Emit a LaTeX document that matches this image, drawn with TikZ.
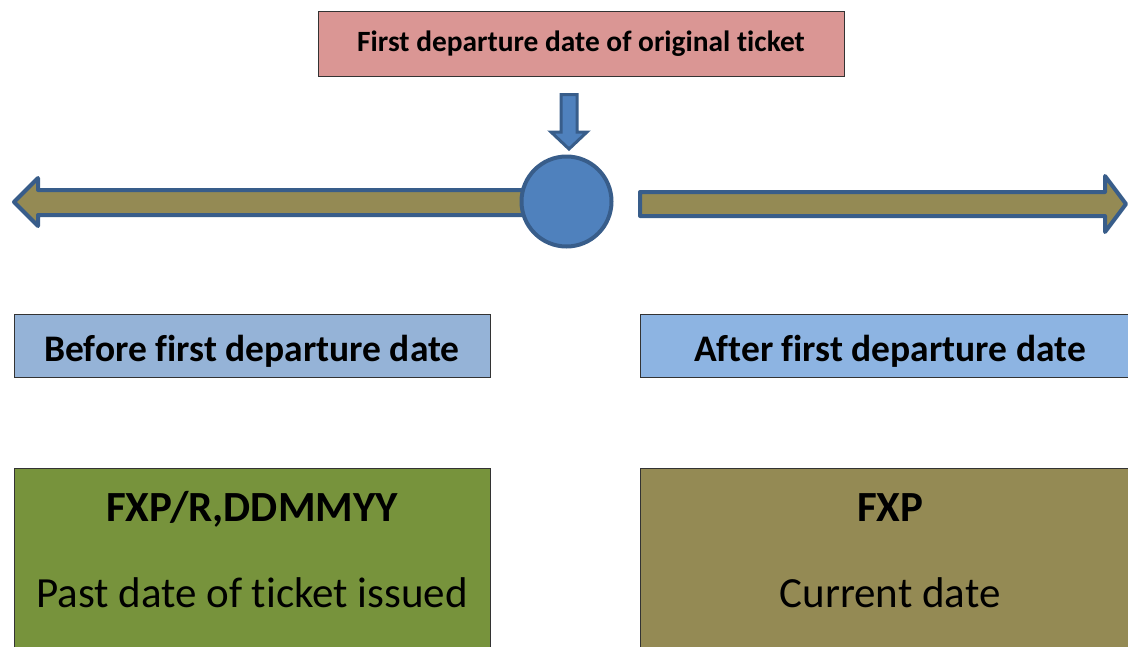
\documentclass[tikz,border=0pt]{standalone}
\usepackage{fontspec}
\setmainfont{Carlito}[Ligatures=NoCommon]
\definecolor{pinkbox}{HTML}{DA9694}
\definecolor{bluebox}{HTML}{95B3D7}
\definecolor{bluebox2}{HTML}{8DB4E2}
\definecolor{greenbox}{HTML}{77933C}
\definecolor{olivebox}{HTML}{948A54}
\definecolor{blueline}{HTML}{385D8A}
\definecolor{bluefill}{HTML}{4F81BD}
\tikzset{
  box/.style={draw=black!80, line width=0.8pt, inner sep=0pt, anchor=north west},
  lbl/.style={inner sep=0pt, anchor=base},
  blockarrow/.style={fill=olivebox, draw=blueline, line width=4pt, line join=round},
  smallarrow/.style={fill=bluefill, draw=blueline, line width=3pt, line join=miter},
}
\begin{document}
\begin{tikzpicture}[x=1pt,y=-1pt]
\useasboundingbox (0,0) rectangle (1128,646);
% top box
\node[box, fill=pinkbox, minimum width=526pt, minimum height=65pt] (top) at (318,11) {};
\node[lbl, font=\bfseries\fontsize{29.4}{34}\selectfont] (toplbl) at (581,51) {First departure date of original ticket};
% arrows behind circle
\draw[blockarrow] (14,202) -- (38,178) -- (38,190) -- (540,190) -- (540,215) -- (38,215) -- (38,226) -- cycle;
\draw[blockarrow] (640,192) -- (1105,192) -- (1105,176) -- (1126,204) -- (1105,232) -- (1105,216) -- (640,216) -- cycle;
% circle
\node[circle, fill=bluefill, draw=blueline, line width=4pt, minimum size=90pt, inner sep=0pt] (c) at (566.5,201.5) {};
% small down arrow
\draw[smallarrow] (561,94.5) -- (577,94.5) -- (577,132) -- (587,132) -- (569,149) -- (551,132) -- (561,132) -- cycle;
% phase boxes
\node[box, fill=bluebox, minimum width=476pt, minimum height=63pt] (before) at (14,314) {};
\node[box, fill=bluebox2, minimum width=530pt, minimum height=63pt] (after) at (640,314) {};
\node[lbl, font=\bfseries\fontsize{37.5}{42}\selectfont] (beforelbl) at (252,361) {Before first departure date};
\node[lbl, font=\bfseries\fontsize{37.5}{42}\selectfont] (afterlbl) at (890,361) {After first departure date};
% command boxes
\node[box, fill=greenbox, minimum width=476pt, minimum height=200pt] (bl) at (14,468) {};
\node[box, fill=olivebox, minimum width=530pt, minimum height=200pt] (br) at (640,468) {};
\node[lbl, font=\bfseries\fontsize{43}{48}\selectfont] (bl1) at (252,521) {FXP/R,DDMMYY};
\node[lbl, font=\fontsize{43}{48}\selectfont] (bl2) at (252,607) {Past date of ticket issued};
\node[lbl, font=\bfseries\fontsize{43}{48}\selectfont] (br1) at (890,521) {FXP};
\node[lbl, font=\fontsize{43}{48}\selectfont] (br2) at (890,607) {Current date};
\end{tikzpicture}
\end{document}
